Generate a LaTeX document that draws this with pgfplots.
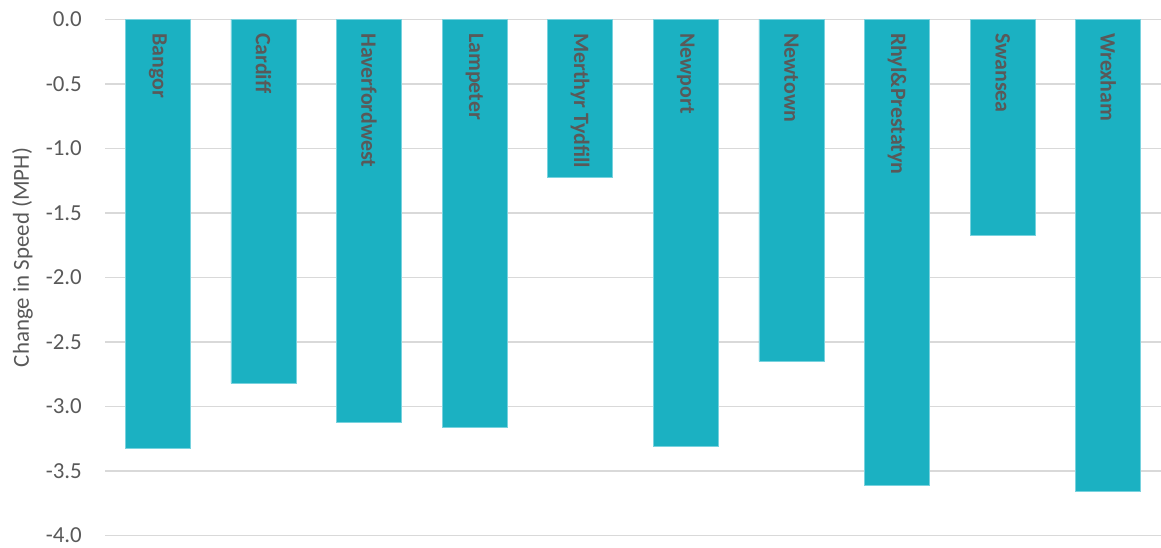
\documentclass[border=0pt]{standalone}
\usepackage{pgfplots}
\pgfplotsset{compat=1.18}
\usepackage{fontspec}
\setmainfont{Carlito}
\definecolor{barteal}{RGB}{27,177,194}
\definecolor{baredge}{RGB}{120,210,222}
\definecolor{txtgray}{RGB}{89,89,89}
\definecolor{gridgray}{RGB}{217,217,217}

\begin{document}
\begin{tikzpicture}
\begin{axis}[
  name=ax,
  scale only axis,
  width=1056bp, height=516bp,
  xmin=-0.5, xmax=9.5,
  ymin=-4, ymax=0,
  ytick={-4,-3.5,...,0},
  xtick=\empty,
  axis line style={draw=none},
  major tick length=0pt,
  ymajorgrids,
  grid style={gridgray, line width=1.2bp},
  /pgf/number format/assume math mode=true,
  yticklabel={\pgfmathprintnumber[fixed, fixed zerofill, precision=1]{\tick}},
  yticklabel style={font=\fontsize{23}{27}\selectfont, text=txtgray, inner sep=0pt, xshift=-23bp},
  ylabel={Change in Speed (MPH)},
  every axis y label/.style={at={(axis description cs:0,0.5)}, xshift=-82.5bp, yshift=20bp,
    rotate=90, anchor=center, font=\fontsize{23}{27}\selectfont, text=txtgray},
  clip=false,
]
% speed change per town
\addplot[ybar, bar width=0.615, bar shift=0pt, fill=barteal, draw=baredge, line width=0.6bp]
  coordinates {(0,-3.32) (1,-2.82) (2,-3.12) (3,-3.16) (4,-1.22)
               (5,-3.31) (6,-2.65) (7,-3.61) (8,-1.67) (9,-3.66)};
% town names, written down from the top of each bar
\addplot[only marks, mark=none, nodes near coords, point meta=explicit symbolic,
  every node near coord/.append style={font=\bfseries\fontsize{22}{26}\selectfont,
    text=txtgray, anchor=west, rotate=-90, inner sep=0pt, xshift=13.5bp}]
  table[meta=label, col sep=comma, row sep=\\] {
  x,y,label\\
  0,0,Bangor\\
  1,0,Cardiff\\
  2,0,Haverfordwest\\
  3,0,Lampeter\\
  4,0,Merthyr Tydfill\\
  5,0,Newport\\
  6,0,Newtown\\
  7,0,Rhyl\&Prestatyn\\
  8,0,Swansea\\
  9,0,Wrexham\\
  };
\end{axis}
\pgfresetboundingbox
\path[use as bounding box] ([xshift=-105bp, yshift=-11.5bp]ax.south west) rectangle ([yshift=19.5bp]ax.north east);
\end{tikzpicture}
\end{document}
